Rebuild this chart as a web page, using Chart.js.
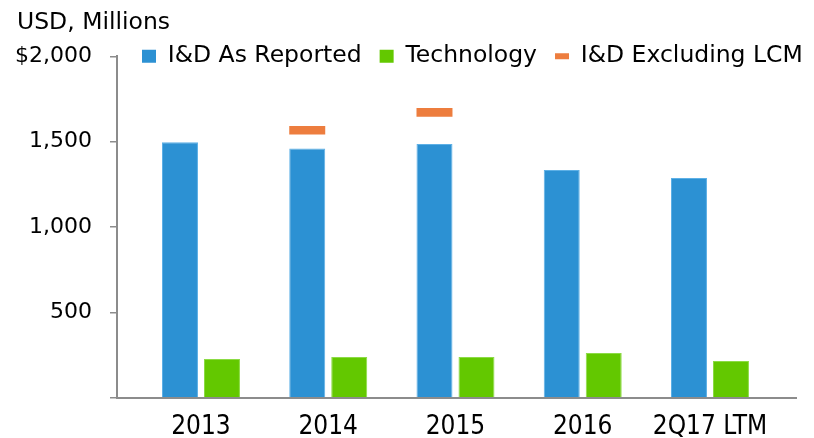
<!DOCTYPE html>
<html>
<head>
<meta charset="utf-8">
<script src="https://cdn.jsdelivr.net/npm/chart.js@4.4.1/dist/chart.umd.min.js"></script>
<style>
  html, body { margin: 0; padding: 0; background: #ffffff; }
  #wrap { width: 814px; height: 438px; }
</style>
</head>
<body>
<div id="wrap"><canvas id="c" width="814" height="438"></canvas></div>
<script>
// ---- data ----
const categories = ['2013', '2014', '2015', '2016', '2Q17 LTM'];
const idAsReported = [1497, 1461, 1487, 1334, 1287];
const technology = [227, 238, 238, 262, 215];
const idExclLcm = [null, 1567, 1672, null, null];
const yTickLabels = ['', '500', '1,000', '1,500', '$2,000'];
const seriesNames = ['I&D As Reported', 'Technology', 'I&D Excluding LCM'];

// ---- style / layout constants ----
const BLUE = '#2C91D3', GREEN = '#63C800', ORANGE = '#ED7D3E';
const AXIS = '#8C8C8C';
const TEXT_FONT = "'DejaVu Sans', 'Liberation Sans', Arial, sans-serif";
const XLABEL_FONT = "'Liberation Sans Narrow', 'DejaVu Sans Condensed', 'Liberation Sans', sans-serif";
const MARK_HALF = 25;      // half thickness of the orange marker, in value units
const TITLE_LEFT = 17;
const LEGEND_LEFT = 124, LEGEND_TOP = 26.6, LEGEND_HEIGHT = 19.7;

const toXY = (arr) => arr.map((v, i) => ({ x: i, y: v })).filter(p => p.y !== null);
const toMarker = (arr) => arr.map((v, i) => (v === null ? null : { x: i, y: [v - MARK_HALF, v + MARK_HALF] })).filter(Boolean);

const tweaks = {
  id: 'tweaks',
  beforeLayout(chart) {
    const lg = chart.legend;
    if (lg && !lg._patched) {
      const fit = lg.fit;
      lg.fit = function () { fit.call(this); this.height = LEGEND_HEIGHT; };
      lg._patched = true;
    }
  },
  afterLayout(chart) {
    const lg = chart.legend;
    if (lg) {
      lg.left = LEGEND_LEFT;
      lg.top = LEGEND_TOP;
      lg.right = chart.width + 60;
      lg.bottom = LEGEND_TOP + 60;
      lg.width = lg.right - lg.left;
      lg.height = lg.bottom - lg.top;
    }
    const tb = chart.titleBlock;
    if (tb) { tb.left = TITLE_LEFT; }
  }
};

new Chart(document.getElementById('c'), {
  type: 'bar',
  data: {
    datasets: [
      { label: seriesNames[0], data: toXY(idAsReported), backgroundColor: BLUE, borderColor: '#5DB0E6', borderWidth: 1, stack: 'a' },
      { label: seriesNames[1], data: toXY(technology), backgroundColor: GREEN, borderColor: '#8CDB45', borderWidth: 1, stack: 'b' },
      { label: seriesNames[2], data: toMarker(idExclLcm), backgroundColor: ORANGE, borderWidth: 0, stack: 'a' }
    ]
  },
  options: {
    responsive: false,
    animation: false,
    devicePixelRatio: 1,
    events: [],
    categoryPercentage: 0.66,
    barPercentage: 0.857,
    layout: { padding: { left: 0, right: 18, top: 0, bottom: 0 } },
    scales: {
      x: {
        type: 'linear',
        min: -0.66,
        max: 4.676,
        offset: false,
        grid: { display: false, drawTicks: false },
        border: { display: true, color: AXIS, width: 2 },
        ticks: {
          stepSize: 1,
          includeBounds: false,
          autoSkip: false,
          maxRotation: 0,
          padding: 14,
          color: '#000',
          font: { family: XLABEL_FONT, size: 26 },
          callback: (v) => (Number.isInteger(v) && categories[v] !== undefined ? categories[v] : '')
        },
        afterFit(s) { s.height = 40.3; }
      },
      y: {
        min: 0,
        max: 2000,
        stacked: false,
        grid: { display: true, drawOnChartArea: false, drawTicks: true, tickLength: 7, color: AXIS, lineWidth: 1.5 },
        border: { display: true, color: AXIS, width: 2 },
        ticks: {
          stepSize: 500,
          padding: 18,
          color: '#000',
          font: { family: TEXT_FONT, size: 22 },
          callback: (v, i) => yTickLabels[i]
        },
        afterFit(s) { s.width = 117; }
      }
    },
    plugins: {
      title: {
        display: true,
        text: 'USD, Millions',
        align: 'start',
        color: '#000',
        font: { family: TEXT_FONT, size: 23.5, weight: 'normal' },
        padding: { top: 8.5, bottom: 0 }
      },
      legend: {
        display: true,
        position: 'top',
        align: 'start',
        labels: {
          usePointStyle: true,
          pointStyleWidth: 14,
          boxHeight: 13,
          padding: 18,
          color: '#000',
          font: { family: TEXT_FONT, size: 23.5 },
          generateLabels(chart) {
            return chart.data.datasets.map((ds, i) => ({
              text: ds.label,
              datasetIndex: i,
              hidden: false,
              fillStyle: ds.backgroundColor,
              strokeStyle: ds.backgroundColor,
              lineWidth: i === 2 ? 6 : 0,
              lineCap: 'butt',
              pointStyle: i === 2 ? 'line' : 'rect',
              rotation: 0,
              fontColor: '#000'
            }));
          }
        }
      },
      tooltip: { enabled: false }
    }
  },
  plugins: [tweaks]
});
</script>
</body>
</html>
